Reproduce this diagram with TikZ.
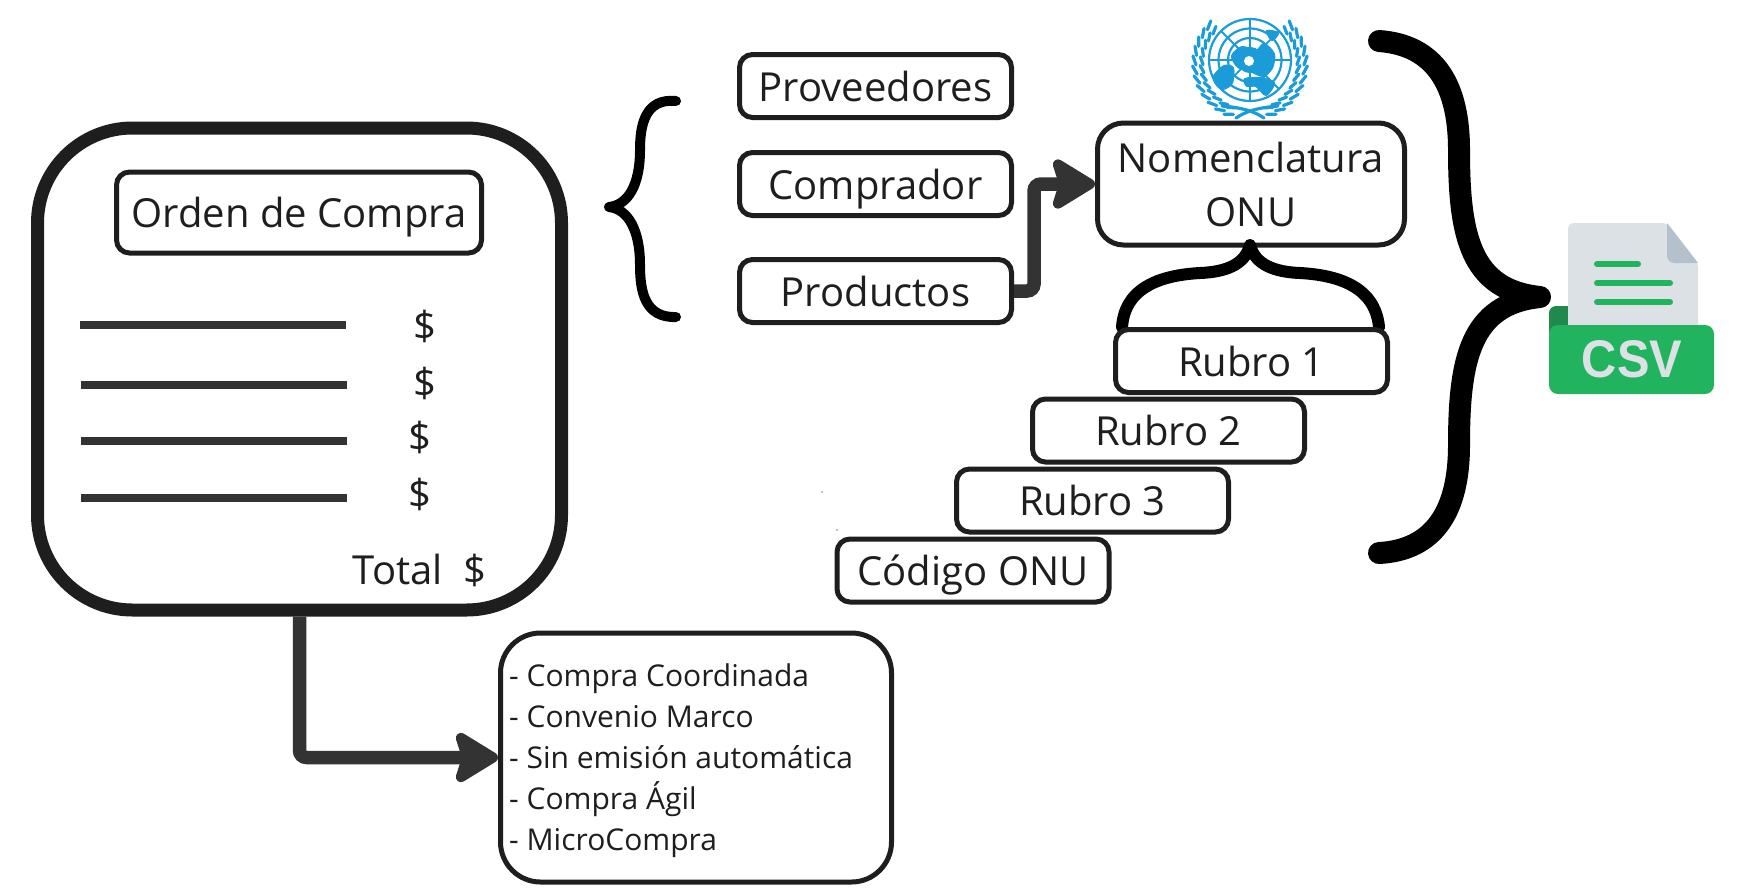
\documentclass[tikz,border=0pt]{standalone}
\usepackage{fontspec}
\setmainfont{Open Sans}
\newfontfamily\csvfont{Liberation Sans}
\usetikzlibrary{arrows.meta}
\definecolor{ink}{HTML}{1E1E1E}
\definecolor{arrowgray}{HTML}{333333}
\definecolor{unblue}{HTML}{1B9CD8}
\definecolor{csvgreen}{HTML}{22B35E}
\definecolor{csvdark}{HTML}{1F8A4C}
\definecolor{csvpage}{HTML}{DCE1E6}
\definecolor{csvfold}{HTML}{B4C0CB}
\tikzset{
  x=1pt,y=-1pt,
  txt/.style={text=ink,font=\fontsize{40}{54}\selectfont,inner sep=0pt},
  boxa/.style={draw=ink,line width=5pt,rounded corners=13pt,fill=white,text=ink,
    font=\fontsize{40}{54}\selectfont,inner sep=0pt,align=center},
  oneline/.style={text height=36pt,text depth=6pt},
  rowline/.style={draw=arrowgray,line width=7.5pt},
  bracket/.style={draw=black,line cap=round,line join=round},
  thickarrow/.style={draw=arrowgray,line width=13.5pt,rounded corners=7pt,
    -{Stealth[length=50pt,width=60pt,inset=9pt,round]}},
  leaf/.style={draw=unblue,line width=3.2pt,line cap=round},
  ring/.style={draw=unblue,line width=2.2pt},
  land/.style={fill=unblue,draw=unblue,line width=2pt},
}
\begin{document}
\begin{tikzpicture}
\useasboundingbox (0,0) rectangle (1744,895);
% main document
\node[draw=ink,line width=13pt,rounded corners=95pt,minimum width=524pt,minimum height=482pt,inner sep=0pt] (main) at (299.5,369) {};
\node[boxa,oneline,minimum width=365pt,minimum height=81pt] (orden) at (299,212.5) {Orden de Compra};
\coordinate (l1a) at (80,325); \coordinate (l1b) at (346,325);
\coordinate (l2a) at (81,385); \coordinate (l2b) at (347,385);
\coordinate (l3a) at (81,441); \coordinate (l3b) at (347,441);
\coordinate (l4a) at (81,498); \coordinate (l4b) at (347,498);
\draw[rowline] (l1a) -- (l1b);
\draw[rowline] (l2a) -- (l2b);
\draw[rowline] (l3a) -- (l3b);
\draw[rowline] (l4a) -- (l4b);
\node[txt] (d1) at (425,326) {\$};
\node[txt] (d2) at (425,383) {\$};
\node[txt] (d3) at (420,437) {\$};
\node[txt] (d4) at (420,494) {\$};
\node[txt] (total) at (419.5,570) {Total\ \ \$};
% list
\node[draw=ink,line width=5pt,rounded corners=40pt,minimum width=391pt,minimum height=249pt,inner sep=0pt,fill=white] (lista) at (696,757.5) {};
\node[anchor=west,text=ink,inner sep=0pt,align=left,font=\fontsize{30}{41}\selectfont] (listatxt) at (509,761)
 {- Compra Coordinada\\- Convenio Marco\\- Sin emisión automática\\- Compra Ágil\\- MicroCompra};
\draw[thickarrow] (main.south) |- (lista.west);
% top boxes
\node[boxa,oneline,minimum width=272pt,minimum height=63pt] (prov) at (875.5,86) {Proveedores};
\node[boxa,oneline,minimum width=272pt,minimum height=63pt] (comp) at (875.5,184) {Comprador};
\node[boxa,oneline,minimum width=272pt,minimum height=63pt] (prod) at (875.5,291) {Productos};
\node[boxa,rounded corners=26pt,minimum width=307pt,minimum height=122pt] (nom) at (1251,184) {Nomenclatura\\ONU};
\draw[thickarrow] (prod.east) -- ++(20,0) |- (nom.west);
% left brace
\draw[bracket,line width=10pt] (676,101) .. controls (645,98) and (640,125) .. (640,150) .. controls (640,185) and (628,205) .. (609,207) .. controls (628,209) and (640,230) .. (640,265) .. controls (640,292) and (645,318) .. (676,317);
% rubros
\draw[bracket,line width=12pt] (1122,327) .. controls (1125,285) and (1165,275) .. (1200,273) .. controls (1225,272) and (1245,265) .. (1250,245) .. controls (1255,265) and (1275,272) .. (1300,273) .. controls (1335,275) and (1375,285) .. (1379,327);
\node[boxa,oneline,minimum width=272pt,minimum height=63pt] (r1) at (1251.5,361) {Rubro 1};
\node[boxa,oneline,minimum width=272pt,minimum height=63pt] (r2) at (1168.5,430.5) {Rubro 2};
\node[boxa,oneline,minimum width=272pt,minimum height=63pt] (r3) at (1092.5,500.5) {Rubro 3};
\node[boxa,oneline,minimum width=272pt,minimum height=63pt] (cod) at (973,570.5) {Código ONU};
% big brace
\draw[bracket,line width=22pt] (1379,41) .. controls (1435,45) and (1459,85) .. (1459,150) .. controls (1459,235) and (1470,290) .. (1540,297) .. controls (1470,304) and (1459,360) .. (1459,445) .. controls (1459,510) and (1435,550) .. (1379,553);
% UN emblem
\draw[ring] (1250,60) circle (41);
\draw[ring] (1250,60) circle (31.5);
\draw[ring] (1250,60) circle (22);
\draw[ring] (1250,60) circle (12);
\foreach \a in {0,45,...,315}{\draw[draw=unblue,line width=1.8pt] (1250,60) -- ({1250+41*cos(\a)},{60+41*sin(\a)});}
\filldraw[land] plot[smooth cycle] coordinates {(1214,76) (1224,66) (1233,68) (1232,83) (1223,89) (1216,84)};
\filldraw[land] plot[smooth cycle] coordinates {(1232,56) (1242,47) (1256,51) (1264,44) (1274,54) (1272,68) (1263,76) (1250,71) (1238,67)};
\filldraw[land] plot[smooth cycle] coordinates {(1245,79) (1260,78) (1274,83) (1266,95) (1256,86) (1247,86)};
\filldraw[land] plot[smooth cycle] coordinates {(1267,31) (1278,33) (1272,40)};
\fill[white] (1249,61) circle (5);
\foreach \a in {-38,-28,...,72}{
  \draw[leaf] ({1250+47*cos(\a)},{63+47*sin(\a)}) -- ({1250+50*cos(\a-9)},{63+50*sin(\a-9)});
  \draw[leaf] ({1250+54*cos(\a)},{63+54*sin(\a)}) -- ({1250+57.5*cos(\a-9)},{63+57.5*sin(\a-9)});
  \draw[leaf] ({1250-47*cos(\a)},{63+47*sin(\a)}) -- ({1250-50*cos(\a-9)},{63+50*sin(\a-9)});
  \draw[leaf] ({1250-54*cos(\a)},{63+54*sin(\a)}) -- ({1250-57.5*cos(\a-9)},{63+57.5*sin(\a-9)});
}
\draw[leaf] (1236,118) .. controls (1245,112) and (1255,108) .. (1278,106);
\draw[leaf] (1264,118) .. controls (1255,112) and (1245,108) .. (1222,106);
% CSV icon
\fill[csvdark,rounded corners=7pt] (1549,340) -- (1549,306) -- (1575,306) -- (1575,340) -- cycle;
\fill[csvpage,rounded corners=5pt] (1568,330) -- (1568,223) -- (1667,223) -- (1698,263) -- (1698,330) -- cycle;
\fill[csvfold] (1667,223) -- (1698,263) -- (1675,263) .. controls (1670,263) and (1667,260) .. (1667,255) -- cycle;
\draw[line width=6pt,draw=csvgreen,line cap=round] (1597,264) -- (1638,264);
\draw[line width=6pt,draw=csvgreen,line cap=round] (1597,283) -- (1670,283);
\draw[line width=6pt,draw=csvgreen,line cap=round] (1597,302) -- (1670,302);
\fill[csvgreen,rounded corners=9pt] (1549,325) rectangle (1714,394);
\node[inner sep=0pt,text=csvpage,transform shape,xscale=0.92,font=\csvfont\bfseries\fontsize{53}{53}\selectfont] (csv) at (1632,359) {CSV};
% specks
\fill[black] (822,492) circle (0.6);
\fill[black] (837,530) circle (0.6);
\end{tikzpicture}
\end{document}
